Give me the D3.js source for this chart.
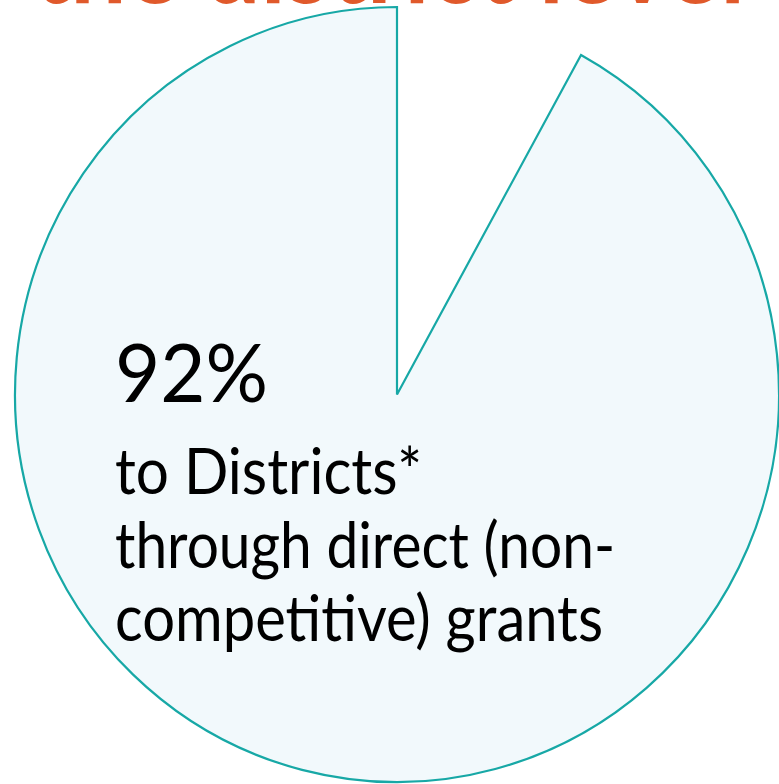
<!DOCTYPE html>
<html>
<head>
<meta charset="utf-8">
<script src="https://cdn.jsdelivr.net/npm/d3@7"></script>
<style>
  html, body { margin: 0; padding: 0; background: #ffffff; }
  svg { display: block; }
</style>
</head>
<body>
<svg id="chart" width="779" height="784"></svg>
<script>
// Funding shares
const categories = ["Districts (direct grants)", "Other"];
const shares = [92, 8];
const shownCategory = "Districts (direct grants)";

// Text content
const headline = "the district level";
const bigLabel = "92%";
const captionLines = ["to Districts*", "through direct (non-", "competitive) grants"];

const width = 779, height = 784;
const svg = d3.select("#chart");

const data = categories.map((c, i) => ({ category: c, value: shares[i] }));

// The large share ends at 12 o'clock; the remaining share is left open.
const otherFrac = shares[1] / d3.sum(shares);
const pie = d3.pie()
  .sort(null)
  .value(d => d.value)
  .startAngle(2 * Math.PI * otherFrac)
  .endAngle(2 * Math.PI * (1 + otherFrac));

const ry = 387.5, rx = 382;
const arc = d3.arc().innerRadius(0).outerRadius(ry);

const g = svg.append("g")
  .attr("transform", `translate(397,394.5) scale(${rx / ry},1)`);

g.selectAll("path")
  .data(pie(data).filter(d => d.data.category === shownCategory))
  .join("path")
  .attr("d", arc)
  .attr("fill", "#F2F9FC")
  .attr("stroke", "#17A8A6")
  .attr("stroke-width", 2.2)
  .attr("vector-effect", "non-scaling-stroke")
  .attr("stroke-linejoin", "miter");

// Headline, mostly above the visible area
svg.append("text")
  .attr("x", 33)
  .attr("y", 3)
  .attr("textLength", 712)
  .attr("lengthAdjust", "spacingAndGlyphs")
  .attr("font-family", "Lato, 'Open Sans', 'Liberation Sans', sans-serif")
  .attr("font-weight", 700)
  .attr("font-size", 110)
  .attr("fill", "#E0592B")
  .text(headline);

const font = "Lato, 'Open Sans', 'Noto Sans', 'Liberation Sans', sans-serif";

svg.append("text")
  .attr("x", 115)
  .attr("y", 402)
  .attr("textLength", 153)
  .attr("lengthAdjust", "spacingAndGlyphs")
  .attr("font-family", font)
  .attr("font-size", 82)
  .attr("fill", "#000000")
  .text(bigLabel);

const baselines = [494, 568, 641];
const widths = [307, 500, 488];
svg.selectAll("text.caption")
  .data(captionLines)
  .join("text")
  .attr("class", "caption")
  .attr("x", 115)
  .attr("y", (d, i) => baselines[i])
  .attr("textLength", (d, i) => widths[i])
  .attr("lengthAdjust", "spacingAndGlyphs")
  .attr("font-family", font)
  .attr("font-size", 63)
  .attr("fill", "#000000")
  .text(d => d);
</script>
</body>
</html>
